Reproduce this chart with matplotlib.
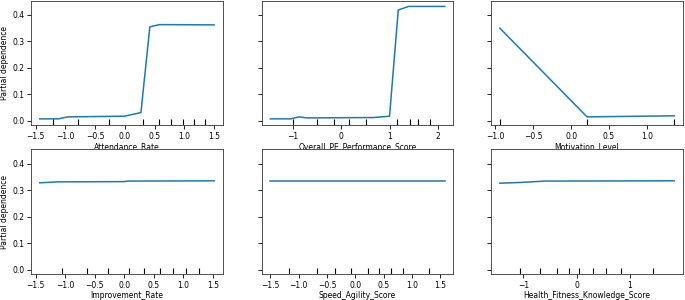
import matplotlib
matplotlib.use("Agg")
import matplotlib.pyplot as plt
from matplotlib.ticker import MultipleLocator

plt.rcParams["font.size"] = 5.5
plt.rcParams["axes.linewidth"] = 0.6
plt.rcParams["axes.edgecolor"] = "#333333"
plt.rcParams["xtick.major.size"] = 2.8
plt.rcParams["ytick.major.size"] = 2.8
plt.rcParams["xtick.major.width"] = 0.6
plt.rcParams["ytick.major.width"] = 0.6
plt.rcParams["xtick.major.pad"] = 2.0
plt.rcParams["ytick.major.pad"] = 2.0

features = ["Attendance_Rate", "Overall_PE_Performance_Score", "Motivation_Level",
            "Improvement_Rate", "Speed_Agility_Score", "Health_Fitness_Knowledge_Score"]

# partial dependence curves (grid value, averaged prediction)
attendance_x = [-1.43, -1.12, -0.95, -0.01, 0.27, 0.42, 0.58, 1.50]
attendance_y = [0.0075, 0.0075, 0.015, 0.0175, 0.031, 0.354, 0.3625, 0.3615]
overall_x = [-1.46, -1.04, -0.87, -0.70, 0.67, 1.00, 1.18, 1.39, 2.14]
overall_y = [0.0075, 0.0075, 0.015, 0.011, 0.0125, 0.0175, 0.4175, 0.431, 0.431]
motivation_x = [-0.94, 0.21, 1.36]
motivation_y = [0.349, 0.015, 0.019]
improvement_x = [-1.43, -1.12, 0.0, 0.05, 1.52]
improvement_y = [0.3275, 0.331, 0.332, 0.334, 0.335]
speed_x = [-1.50, 1.58]
speed_y = [0.334, 0.334]
health_x = [-1.44, -1.04, -0.60, 1.83]
health_y = [0.326, 0.329, 0.334, 0.335]

# deciles of each feature (rug marks)
attendance_dec = [-1.21, -0.78, -0.26, 0.31, 0.57, 0.77, 0.97, 1.16, 1.34]
overall_dec = [-0.99, -0.49, -0.15, 0.16, 0.52, 1.15, 1.42, 1.59, 1.83]
motivation_dec = [-0.94, 0.21, 1.36]
improvement_dec = [-1.05, -0.63, -0.27, 0.08, 0.34, 0.61, 0.83, 1.04, 1.26]
speed_dec = [-1.18, -0.67, -0.35, -0.08, 0.22, 0.42, 0.63, 0.85, 1.31]
health_dec = [-1.07, -0.68, -0.37, -0.15, 0.04, 0.30, 0.55, 0.83, 1.44]

xs = [attendance_x, overall_x, motivation_x, improvement_x, speed_x, health_x]
ys = [attendance_y, overall_y, motivation_y, improvement_y, speed_y, health_y]
decs = [attendance_dec, overall_dec, motivation_dec, improvement_dec, speed_dec, health_dec]
tick_steps = [0.5, 1, 0.5, 0.5, 0.5, 1]

fig = plt.figure(figsize=(6.85, 3.0), dpi=100)
lefts = [0.0453, 0.382, 0.717]
bottoms = [0.583, 0.0867]
width, height = 0.28, 0.415

for i in range(6):
    r, c = divmod(i, 3)
    ax = fig.add_axes([lefts[c], bottoms[r], width, height])
    ax.plot(xs[i], ys[i], color="#1f77b4", lw=1.1)
    ax.vlines(decs[i], 0, 0.05, transform=ax.get_xaxis_transform(), color="k", lw=0.8)
    ax.set_ylim(-0.016, 0.453)
    ax.xaxis.set_major_locator(MultipleLocator(tick_steps[i]))
    ax.yaxis.set_major_locator(MultipleLocator(0.1))
    ax.set_xlabel(features[i], labelpad=1.0)
    if c == 0:
        ax.set_ylabel("Partial dependence", labelpad=2)
    else:
        ax.set_yticklabels([])

fig.savefig("out.png", dpi=100)
